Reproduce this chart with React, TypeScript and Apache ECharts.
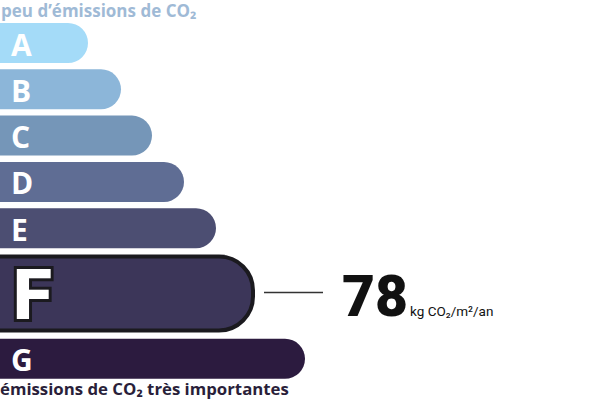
import React, { useEffect, useRef } from "react";
import * as echarts from "echarts";

const classes = ["A", "B", "C", "D", "E", "F", "G"];
const barLengths = [88, 121, 152, 184, 216, 255, 305];
const rowSpans = [1, 1, 1, 1, 1, 1.82, 1];
const colors = ["#a4dbf8", "#8cb6d9", "#7596b8", "#5f6d94", "#4c4e72", "#3c3659", "#2c1b3f"];
const activeClass = "F";
const value = "78";
const unit = "kg CO₂/m²/an";
const topLabel = "peu d’émissions de CO₂";
const bottomLabel = "émissions de CO₂ très importantes";

export default function App() {
  const ref = useRef<HTMLDivElement>(null);
  useEffect(() => {
    if (!ref.current) return;
    const chart = echarts.init(ref.current, null, { renderer: "svg" });
    let acc = 0;
    const data = classes.map((c, i) => {
      const y0 = acc;
      acc += rowSpans[i];
      return [barLengths[i], y0, acc, i];
    });
    const total = acc;
    chart.setOption({
      animation: false,
      grid: { left: 0, right: 0, top: 19.85, bottom: 19.05 },
      xAxis: { type: "value", min: 0, max: 600, show: false },
      yAxis: { type: "value", min: 0, max: total, inverse: true, show: false },
      graphic: [
        {
          type: "text",
          left: 1,
          top: 1,
          style: { text: topLabel, fill: "#9fbad6", font: "bold 17px 'Open Sans'", lineHeight: 18 },
        },
        {
          type: "text",
          left: 0,
          top: 379,
          style: { text: bottomLabel, fill: "#2a1f3a", font: "bold 16.8px 'Open Sans'", lineHeight: 18 },
        },
      ],
      series: [
        {
          type: "custom",
          data,
          renderItem: (params: any, api: any) => {
            const len = api.value(0);
            const y0 = api.value(1);
            const y1 = api.value(2);
            const idx = api.value(3);
            const p0 = api.coord([0, y0]);
            const p1 = api.coord([len, y1]);
            const gap = 3.15;
            const top = p0[1] + gap;
            const bottom = p1[1] - gap;
            const h = bottom - top;
            const cy = (top + bottom) / 2;
            const isActive = classes[idx] === activeClass;
            const children: any[] = [];
            if (isActive) {
              children.push({
                type: "rect",
                shape: { x: p0[0] - 10, y: top + 2, width: p1[0] - p0[0] + 8, height: h - 4, r: [0, 34, 34, 0] },
                style: { fill: colors[idx], stroke: "#1b1a1f", lineWidth: 4 },
              });
              children.push({
                type: "text",
                style: {
                  x: p0[0] + 13,
                  y: cy + 1,
                  text: classes[idx],
                  fill: "#ffffff",
                  stroke: "#1b1a1f",
                  lineWidth: 6,
                  font: "900 71px Roboto",
                  lineHeight: 60,
                  verticalAlign: "middle",
                  align: "left",
                },
              });
              children.push({
                type: "line",
                shape: { x1: p1[0] + 9, y1: cy - 1, x2: p1[0] + 68, y2: cy - 1 },
                style: { stroke: "#333333", lineWidth: 1.5 },
              });
              children.push({
                type: "text",
                style: {
                  x: p1[0] + 87,
                  y: cy + 3,
                  text: value,
                  fill: "#111111",
                  font: "900 57px Roboto",
                  lineHeight: 50,
                  verticalAlign: "middle",
                  align: "left",
                },
              });
              children.push({
                type: "text",
                style: {
                  x: p1[0] + 155,
                  y: cy + 17,
                  text: unit,
                  fill: "#111111",
                  font: "13.5px Roboto",
                  lineHeight: 14,
                  verticalAlign: "middle",
                  align: "left",
                },
              });
            } else {
              children.push({
                type: "rect",
                shape: { x: p0[0] - 10, y: top, width: p1[0] - p0[0] + 10, height: h, r: [0, h / 2, h / 2, 0] },
                style: { fill: colors[idx] },
              });
              children.push({
                type: "text",
                style: {
                  x: p0[0] + 11,
                  y: cy + 1,
                  text: classes[idx],
                  fill: "#ffffff",
                  font: "bold 30px 'Open Sans'",
                  lineHeight: 30,
                  verticalAlign: "middle",
                  align: "left",
                },
              });
            }
            return { type: "group", children };
          },
        },
      ],
    });
    return () => chart.dispose();
  }, []);
  return <div ref={ref} style={{ width: 600, height: 401, position: "absolute", left: 0, top: 0 }} />;
}
